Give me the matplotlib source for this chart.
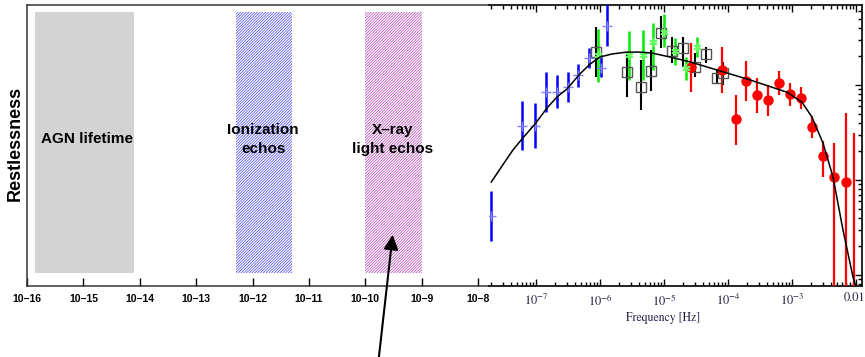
import numpy as np
import matplotlib
matplotlib.use('Agg')
import matplotlib.pyplot as plt
from matplotlib.patches import FancyArrowPatch
from matplotlib.transforms import blended_transform_factory

plt.rcParams['mathtext.fontset'] = 'stix'
plt.rcParams['hatch.linewidth'] = 0.45

# Data
#==========================================================
# left panel: time-scale bands (Hz)
band_names = ['AGN lifetime', 'Ionization\nechos', 'X\u2013ray\nlight echos']
band_lo    = [1.4e-16, 5.0e-13, 1.0e-10]
band_hi    = [7.8e-15, 5.0e-12, 1.0e-9]
band_text_x = [1.16e-15, 1.55e-12, 3.1e-10]
left_ticks  = [1e-16, 1e-15, 1e-14, 1e-13, 1e-12, 1e-11, 1e-10, 1e-9, 1e-8]
left_labels = ['10\u221216', '10\u221215', '10\u221214', '10\u221213', '10\u221212',
               '10\u221211', '10\u221210', '10\u22129', '10\u22128']

# right panel: power spectrum
model_f = [2.0e-8, 2.94e-8, 4.37e-8, 6.04e-8, 9.65e-8, 1.49e-7, 2.13e-7, 3.05e-7,
           4.87e-7, 6.98e-7, 1.0e-6, 1.54e-6, 2.64e-6, 4.22e-6, 6.49e-6, 1.24e-5,
           2.55e-5, 6.73e-5, 2.21e-4, 8.35e-4, 1.43e-3, 2.05e-3, 3.05e-3, 4.37e-3,
           6.26e-3, 8.98e-3, 1.0e-2]
model_p = [0.095, 0.140, 0.207, 0.270, 0.388, 0.573, 0.748, 0.908,
           1.31, 1.66, 1.97, 2.12, 2.22, 2.22, 2.17, 1.97,
           1.75, 1.44, 1.13, 0.84, 0.66, 0.46, 0.245, 0.108,
           0.0298, 0.00953, 0.00748]

blue_f  = [2.0e-8, 6.0e-8, 9.5e-8, 1.45e-7, 2.1e-7, 3.2e-7, 4.6e-7, 6.8e-7, 1.05e-6, 1.3e-6]
blue_p  = [0.042, 0.37, 0.37, 0.84, 0.84, 0.95, 1.27, 1.92, 1.51, 4.2]
blue_hi = [0.077, 0.68, 0.65, 1.37, 1.27, 1.37, 1.66, 2.45, 2.07, 7.9]
blue_lo = [0.023, 0.207, 0.217, 0.52, 0.57, 0.66, 0.95, 1.51, 1.21, 2.6]

black_f  = [8.7e-7, 2.6e-6, 4.4e-6, 6.3e-6, 8.9e-6, 1.35e-5, 2.0e-5, 3.0e-5, 4.5e-5, 6.8e-5, 8.4e-5]
black_p  = [2.2, 1.37, 0.95, 1.40, 3.5, 2.28, 2.45, 1.55, 2.12, 1.19, 1.34]
black_hi = [4.1, 2.2, 1.83, 2.33, 5.3, 3.2, 3.2, 2.17, 2.5, 1.44, 1.75]
black_lo = [1.21, 0.75, 0.55, 0.86, 2.45, 1.71, 1.55, 1.21, 1.71, 1.05, 1.0]

green_f  = [9.3e-7, 2.8e-6, 4.7e-6, 6.8e-6, 1.0e-5, 1.48e-5, 2.2e-5, 3.3e-5]
green_p  = [2.07, 2.07, 2.07, 2.84, 3.6, 2.28, 1.51, 2.5]
green_hi = [3.9, 3.7, 3.8, 4.5, 5.6, 3.1, 1.97, 3.2]
green_lo = [1.08, 1.13, 1.13, 1.44, 2.5, 1.62, 1.13, 1.97]

red_f  = [2.6e-5, 8.1e-5, 1.35e-4, 1.9e-4, 2.8e-4, 4.2e-4, 6.3e-4, 9.3e-4, 1.38e-3,
          2.05e-3, 3.0e-3, 4.5e-3, 6.9e-3, 9.3e-3]
red_p  = [1.55, 1.44, 0.44, 1.10, 0.785, 0.695, 1.05, 0.80, 0.73,
          0.36, 0.179, 0.108, 0.095, 0.004]
red_hi = [2.77, 2.5, 0.785, 1.79, 1.19, 1.0, 1.40, 1.05, 0.95,
          0.47, 0.257, 0.245, 0.51, 0.31]
red_lo = [0.84, 0.82, 0.233, 0.68, 0.51, 0.47, 0.785, 0.60, 0.56,
          0.277, 0.108, 1e-4, 1e-4, 1e-4]

right_ticks  = [1e-7, 1e-6, 1e-5, 1e-4, 1e-3, 1e-2]
right_labels = ['$10^{-7}$', '$10^{-6}$', '$10^{-5}$', '$10^{-4}$', '$10^{-3}$', '']


def yerr(p, lo, hi):
    p, lo, hi = np.array(p), np.array(lo), np.array(hi)
    return [p - lo, hi - p]


# Figure
#==========================================================
W, H = 865, 357
fig = plt.figure(figsize=(W / 100., H / 100.), dpi=100)
sans = 'Liberation Sans'
navy = '#222244'

# left panel
ax1 = fig.add_axes([27. / W, 1 - 286. / H, 462. / W, 281. / H])
ax1.set_xscale('log')
ax1.set_xlim(1e-16, 10 ** -7.806)
ax1.set_ylim(0, 1)
ax1.axvspan(band_lo[0], band_hi[0], ymin=0.046, ymax=0.975, color='#d3d3d3', lw=0)
ax1.axvspan(band_lo[1], band_hi[1], ymin=0.046, ymax=0.975, facecolor='white',
            edgecolor='#3030f0', hatch='////////////', lw=0)
ax1.axvspan(band_lo[2], band_hi[2], ymin=0.046, ymax=0.975, facecolor='white',
            edgecolor='#b030b0', hatch='////////////', lw=0)
for name, x in zip(band_names, band_text_x):
    ax1.text(x, 0.522, name, ha='center', va='center', fontsize=11,
             fontweight='bold', family=sans, linespacing=1.45)
ax1.set_xticks(left_ticks)
ax1.set_xticklabels(left_labels, fontsize=7.5, fontweight='bold', family=sans)
ax1.minorticks_off()
ax1.set_yticks([])
ax1.tick_params(axis='x', direction='in', length=6, width=1, pad=6)
ax1.spines['right'].set_visible(False)
for s in ['left', 'top', 'bottom']:
    ax1.spines[s].set_color('#333333')
    ax1.spines[s].set_linewidth(1.1)

# right panel
ax2 = fig.add_axes([489. / W, 1 - 286. / H, 373. / W, 281. / H])
ax2.set_xscale('log')
ax2.set_yscale('log')
ax2.set_xlim(10 ** -7.734, 10 ** -1.906)
ax2.set_ylim(10 ** -2.116, 10 ** 0.842)
ax2.patch.set_alpha(0)

ax2.errorbar(black_f, black_p, yerr=yerr(black_p, black_lo, black_hi), fmt='s',
             ms=7, mfc='none', mec='#555555', mew=1, ecolor='black', elinewidth=1.5,
             capsize=0, zorder=3)
ax2.errorbar(green_f, green_p, yerr=yerr(green_p, green_lo, green_hi), fmt='none',
             ecolor='#00ee00', elinewidth=1.8, capsize=0, zorder=3)
ax2.plot(green_f, green_p, ls='none', marker=(6, 2, 0), ms=6, mec='#66ff66', mew=1, zorder=4)
ax2.errorbar(blue_f, blue_p, yerr=yerr(blue_p, blue_lo, blue_hi), fmt='none',
             ecolor='#0000ff', elinewidth=1.8, capsize=0, zorder=3)
ax2.plot(blue_f, blue_p, ls='none', marker='+', ms=7, mec='#8080ff', mew=1, zorder=4)
ax2.errorbar(red_f, red_p, yerr=yerr(red_p, red_lo, red_hi), fmt='o', ms=6.5,
             color='#ff0000', ecolor='#ff0000', elinewidth=1.6, capsize=0, zorder=3)
ax2.plot(model_f, model_p, color='black', lw=1.1, zorder=5)

ax2.set_xticks(right_ticks)
ax2.set_xticklabels(right_labels, fontsize=9, family='STIXGeneral', color=navy)
ax2.text(10 ** -2.03, -0.043, '0.01', transform=blended_transform_factory(ax2.transData, ax2.transAxes),
         ha='center', va='center', fontsize=9, family='STIXGeneral', color=navy)
ax2.xaxis.set_minor_formatter(plt.NullFormatter())
ax2.yaxis.set_major_formatter(plt.NullFormatter())
ax2.yaxis.set_minor_formatter(plt.NullFormatter())
ax2.tick_params(which='both', direction='in', top=True, bottom=True, right=True,
                left=False, labelleft=False, labelright=False, width=1)
ax2.tick_params(which='major', length=5, pad=5)
ax2.tick_params(which='minor', length=3)
ax2.spines['left'].set_visible(False)
for s in ['top', 'bottom', 'right']:
    ax2.spines[s].set_linewidth(1.2)

fig.text(663. / W, 1 - 318. / H, 'Frequency [Hz]', ha='center', va='center',
         fontsize=8.5, family='STIXGeneral', color=navy)
fig.text(15. / W, 1 - 143. / H, 'Restlessness', ha='center', va='center',
         rotation=90, fontsize=13, fontweight='bold', family=sans)

arrow = FancyArrowPatch((378. / W, 1 - 365. / H), (393. / W, 1 - 232. / H),
                        transform=fig.transFigure, arrowstyle='-|>',
                        mutation_scale=22, lw=1.5, color='black')
fig.add_artist(arrow)

fig.savefig('out.png', dpi=100)
